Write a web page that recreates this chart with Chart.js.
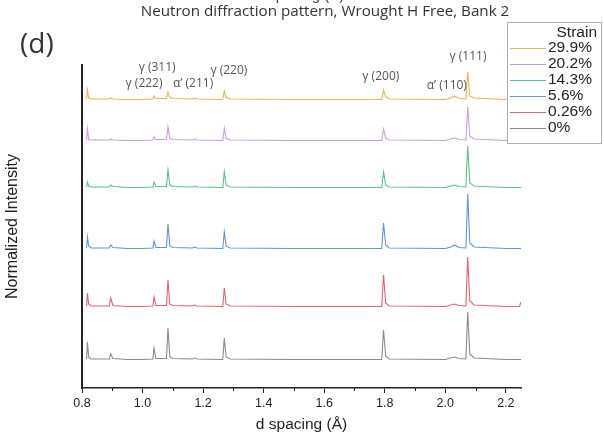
<!DOCTYPE html>
<html><head><meta charset="utf-8">
<script src="https://cdn.jsdelivr.net/npm/chart.js@4.4.1/dist/chart.umd.min.js"></script>
<style>html,body{margin:0;padding:0;background:#fff;}#wrap{width:604px;height:443px;position:relative;}</style>
</head><body><div id="wrap"><canvas id="c" width="604" height="443"></canvas></div>
<script>
// ---- data ----
const chartTitle = 'Neutron diffraction pattern, Wrought H Free, Bank 2';
const panelLabel = '(d)';
const xTitle = 'd spacing (\u00C5)';
const yTitle = 'Normalized Intensity';
const legendTitle = 'Strain';
const strainLabels = ['29.9%', '20.2%', '14.3%', '5.6%', '0.26%', '0%'];
const seriesColors = ['#e6b654', '#c8a0dc', '#62bd8a', '#6294d8', '#ec5f6e', '#8a8a8a'];
const offsets = [288, 247, 200, 139, 81, 28];
const xTicks = [0.8, 1.0, 1.2, 1.4, 1.6, 1.8, 2.0, 2.2];

const dSpacing = [0.815, 0.818, 0.822, 0.83, 0.86, 0.89, 0.895, 0.902, 0.95, 1.0,
  1.034, 1.038, 1.044, 1.079, 1.084, 1.09, 1.10, 1.165, 1.172, 1.18,
  1.265, 1.27, 1.276, 1.29, 1.5, 1.79, 1.796, 1.803, 1.815, 2.0,
  2.018, 2.03, 2.045, 2.068, 2.074, 2.081, 2.095, 2.2, 2.245, 2.25];

const strain299 = [1,10,2,1,1,1,2,1,0.5,0.5, 1,4,1.5,1.5,8,2.5,1.5,1,2,1, 0.5,9,2.5,1,0.5,0.5,10,3,1,0.5, 2,4,1.5,1,28,4,2,0.5,0.5,0.5];
const strain202 = [1,12,2,1,1,1,2,1,0.5,0.5, 1,4,1.5,1.5,14,2.5,1.5,1,2,1, 0.5,13,2.5,1,0.5,0.5,12,3,1,0.5, 2,3,1.5,1,34,5,2,0.5,0.5,0.5];
const strain143 = [1,6,2,1,1,1,3,1.5,0.5,0.5, 1,6,1.5,1.5,18,3,1.5,1,2,1, 0.5,16,3,1,0.5,0.5,16,3,1,0.5, 2,3,1.5,1,42,5,2,0.5,0.5,0.5];
const strain56  = [1,12,3,1,1,1,4,1.5,0.5,0.5, 1,8,1.5,1.5,25,3,1.5,1,2,1, 0.5,17,3,1,0.5,0.5,26,4,1,0.5, 2,4,1.5,1,55,6,2,0.5,0.5,0.5];
const strain026 = [1,14,3,1,1,1,9,1.5,0.5,0.5, 1,10,1.5,1.5,27,3,1.5,1,2,1, 0.5,19,3,1,0.5,0.5,32,4,1,0.5, 2,3,1.5,1,50,6,2,0.5,0.5,5];
const strain0   = [1,18,3,1,1,1,6,1.5,0.5,0.5, 1,12,1.5,1.5,32,3,1.5,1,2,1, 0.5,22,3,1,0.5,0.5,30,4,1,0.5, 2,3,1.5,1,48,6,2,0.5,0.5,0.5];
const seriesValues = [strain299, strain202, strain143, strain56, strain026, strain0];

const peakLabels = ['\u03B3 (311)', '\u03B3 (222)', '\u03B1\u2019 (211)', '\u03B3 (220)', '\u03B3 (200)', '\u03B1\u2019 (110)', '\u03B3 (111)'];
const peakLabelD = [1.048, 1.005, 1.167, 1.285, 1.787, 2.005, 2.075];
const peakLabelY = [320, 304, 304, 317, 311, 302, 331];

// ---- chart ----
const datasets = strainLabels.map((lab, i) => ({
  label: lab,
  data: dSpacing.map((d, j) => ({x: d, y: offsets[i] + seriesValues[i][j]})),
  borderColor: seriesColors[i],
  borderWidth: 1.1,
  pointRadius: 0,
  tension: 0,
  fill: false
}));

const overlay = {
  id: 'overlay',
  afterDraw(chart) {
    const ctx = chart.ctx;
    const xs = chart.scales.x, ys = chart.scales.y;
    ctx.save();
    // minor ticks
    ctx.strokeStyle = '#222'; ctx.lineWidth = 1;
    for (let k = 0; k < xTicks.length; k++) {
      const m = xTicks[k] + 0.1;
      if (m > xs.max) break;
      const px = Math.round(xs.getPixelForValue(m)) + 0.5;
      ctx.beginPath(); ctx.moveTo(px, xs.top); ctx.lineTo(px, xs.top + 3); ctx.stroke();
    }
    // ghost text at top
    ctx.fillStyle = '#444';
    ctx.font = '15px "Liberation Sans", Arial, sans-serif';
    ctx.textAlign = 'center'; ctx.textBaseline = 'middle';
    ctx.fillText(xTitle, 300, -4);
    // title
    ctx.fillStyle = '#333';
    ctx.font = '15.2px "Open Sans", sans-serif';
    ctx.fillText(chartTitle, 325, 12);
    // panel label
    ctx.font = '28px "Open Sans", sans-serif';
    ctx.textAlign = 'left';
    ctx.fillText(panelLabel, 20, 45);
    // peak labels
    ctx.fillStyle = '#555';
    ctx.font = '12px "Open Sans", sans-serif';
    ctx.textAlign = 'center';
    peakLabels.forEach((t, i) => {
      ctx.fillText(t, xs.getPixelForValue(peakLabelD[i]), ys.getPixelForValue(peakLabelY[i]));
    });
    // legend
    const bx = 507, by = 22, bw = 94, bh = 121;
    ctx.fillStyle = '#fff';
    ctx.fillRect(bx, by, bw, bh);
    ctx.strokeStyle = '#b0b0b0'; ctx.lineWidth = 1;
    ctx.strokeRect(bx + 0.5, by + 0.5, bw, bh);
    ctx.fillStyle = '#222';
    ctx.font = '15.5px "Liberation Sans", Arial, sans-serif';
    ctx.textAlign = 'right';
    ctx.fillText(legendTitle, 597, 33);
    ctx.textAlign = 'left';
    chart.data.datasets.forEach((ds, i) => {
      const yy = 48 + i * 16;
      ctx.strokeStyle = ds.borderColor; ctx.lineWidth = 1;
      ctx.beginPath(); ctx.moveTo(510, yy + 0.5); ctx.lineTo(546, yy + 0.5); ctx.stroke();
      ctx.fillStyle = '#222';
      ctx.fillText(ds.label, 548, yy);
    });
    ctx.restore();
  }
};

new Chart(document.getElementById('c'), {
  type: 'line',
  data: {datasets},
  options: {
    responsive: false,
    animation: false,
    layout: {padding: {left: 0, top: 65, right: 83, bottom: 0}},
    plugins: {legend: {display: false}, tooltip: {enabled: false}, title: {display: false}},
    scales: {
      x: {
        type: 'linear', min: 0.8, max: 2.25,
        afterBuildTicks: (s) => { s.ticks = xTicks.map(v => ({value: v})); },
        afterFit: (s) => { s.height = 55; },
        ticks: {color: '#222', font: {size: 12.5, family: '"Liberation Sans", Arial, sans-serif'}, padding: 3,
          callback: (v) => Number(v).toFixed(1), maxRotation: 0, autoSkip: false},
        grid: {drawOnChartArea: false, drawTicks: true, tickLength: 5, color: '#222'},
        border: {display: true, color: '#222', width: 1.5},
        title: {display: true, text: xTitle, color: '#222', font: {size: 15.5, family: '"Liberation Sans", Arial, sans-serif'}, padding: {top: 0, bottom: 9}}
      },
      y: {
        type: 'linear', min: 0, max: 323,
        afterFit: (s) => { s.width = 82; },
        ticks: {display: false},
        grid: {display: false},
        border: {display: true, color: '#222', width: 2},
        title: {display: true, text: yTitle, color: '#222', font: {size: 16, family: '"Liberation Sans", Arial, sans-serif'}, padding: {top: 3, bottom: 0}}
      }
    }
  },
  plugins: [overlay]
});
</script>
</body></html>
